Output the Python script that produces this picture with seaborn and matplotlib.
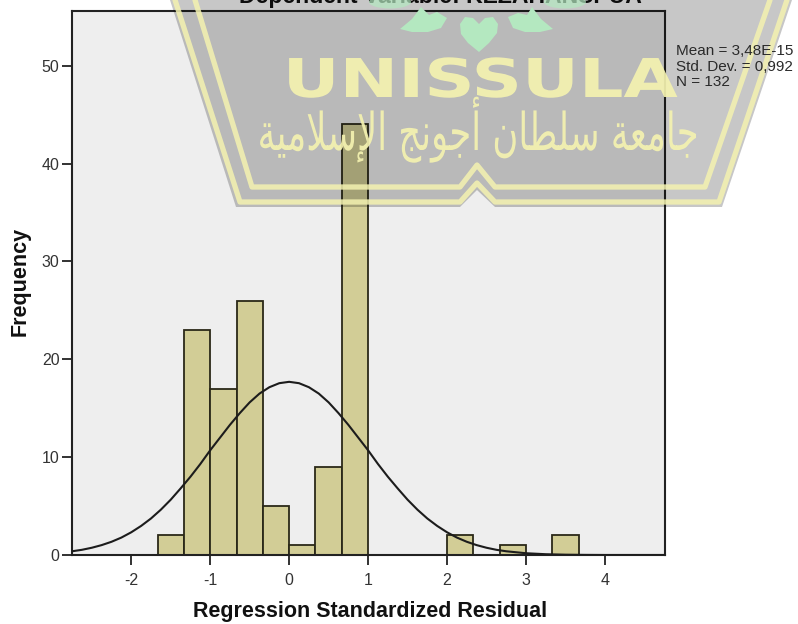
import numpy as np
import matplotlib
matplotlib.use("Agg")
import matplotlib.pyplot as plt
import seaborn as sns
from matplotlib.patches import Polygon, Ellipse
from matplotlib.patheffects import AbstractPathEffect
from matplotlib.transforms import Affine2D

# ---- data ----
bin_edges = [-5/3, -4/3, -1, -2/3, -1/3, 0, 1/3, 2/3, 1, 4/3, 5/3, 2, 7/3, 8/3, 3, 10/3, 11/3]
bin_centers = [-1.5, -7/6, -5/6, -0.5, -1/6, 1/6, 0.5, 5/6, 7/6, 1.5, 11/6, 13/6, 2.5, 17/6, 3.17, 3.5]
counts = [2, 23, 17, 26, 5, 1, 9, 44, 0, 0, 0, 2, 0, 1, 0, 2]
curve_x = [-2.75, -2.625, -2.5, -2.375, -2.25, -2.125, -2, -1.875, -1.75, -1.625, -1.5, -1.375, -1.25, -1.125,
           -1, -0.875, -0.75, -0.625, -0.5, -0.375, -0.25, -0.125, 0, 0.125, 0.25, 0.375, 0.5, 0.625, 0.75,
           0.875, 1, 1.125, 1.25, 1.375, 1.5, 1.625, 1.75, 1.875, 2, 2.125, 2.25, 2.375, 2.5, 2.625, 2.75,
           3, 3.25, 3.5, 3.75, 4, 4.75]
curve_y = [0.38, 0.53, 0.74, 1.01, 1.35, 1.78, 2.32, 2.97, 3.73, 4.63, 5.65, 6.8, 8.0, 9.3,
           10.7, 12.0, 13.3, 14.5, 15.6, 16.5, 17.15, 17.56, 17.7, 17.56, 17.15, 16.5, 15.6, 14.5, 13.3,
           12.0, 10.7, 9.3, 8.0, 6.8, 5.65, 4.63, 3.73, 2.97, 2.32, 1.78, 1.35, 1.01, 0.74, 0.53, 0.38,
           0.18, 0.08, 0.03, 0.01, 0, 0]
x_ticks = [-2, -1, 0, 1, 2, 3, 4]
y_ticks = [0, 10, 20, 30, 40, 50]
title_text = "Dependent Variable: KEZAHANSPUA"
stats_lines = ["Mean = 3,48E-15", "Std. Dev. = 0,992", "N = 132"]
x_label = "Regression Standardized Residual"
y_label = "Frequency"
mark_latin = "UNISSULA"
mark_arabic = "جامعة سلطان أجونج الإسلامية"

W, H = 798, 624
sns.set_theme(style="white")
plt.rcParams["font.family"] = ["Liberation Sans", "DejaVu Sans"]
plt.rcParams["axes.unicode_minus"] = False

fig = plt.figure(figsize=(W / 100, H / 100), dpi=100, facecolor="white")
ax = fig.add_axes([72 / W, 1 - 555 / H, (665 - 72) / W, (555 - 11) / H])
ax.set_facecolor("#EEEEEE")

sns.histplot(x=bin_centers, weights=counts, bins=bin_edges, ax=ax, color="#D2CD96", alpha=1,
             edgecolor="#2A2818", linewidth=1.3, zorder=2)
sns.lineplot(x=curve_x, y=curve_y, ax=ax, color="#1C1C1C", linewidth=1.5, zorder=3, errorbar=None, sort=False)

ax.set_xlim(-2.75, 4.76)
ax.set_ylim(0, 55.6)
ax.set_xticks(x_ticks)
ax.set_yticks(y_ticks)
ax.tick_params(axis="both", direction="out", length=7, width=1.3, color="#222222",
               labelsize=11.5, labelcolor="#333333", left=True, bottom=True, pad=2)
ax.tick_params(axis="x", pad=6)
for s in ax.spines.values():
    s.set_visible(True)
    s.set_color("#222222")
    s.set_linewidth(1.5)
ax.set_xlabel("")
ax.set_ylabel("")

px = Affine2D().scale(1, -1).translate(0, H)  # pixel coordinates, origin at top-left


class Stretch(AbstractPathEffect):
    """Widen a text around a pixel anchor."""
    def __init__(self, sx, sy, cx, cy):
        super().__init__()
        self.t = Affine2D().translate(-cx, -(H - cy)).scale(sx, sy).translate(cx, H - cy)

    def draw_path(self, renderer, gc, tpath, affine, rgbFace=None):
        renderer.draw_path(gc, tpath, affine + self.t, rgbFace)


def shape_arabic(text):
    forms = {"ا": "\uFE8D\uFE8E", "أ": "\uFE83\uFE84", "إ": "\uFE87\uFE88", "و": "\uFEED\uFEEE", "ة": "\uFE93\uFE94",
             "ج": "\uFE9D\uFE9E\uFE9F\uFEA0", "م": "\uFEE1\uFEE2\uFEE3\uFEE4", "ع": "\uFEC9\uFECA\uFECB\uFECC",
             "س": "\uFEB1\uFEB2\uFEB3\uFEB4", "ل": "\uFEDD\uFEDE\uFEDF\uFEE0", "ط": "\uFEC1\uFEC2\uFEC3\uFEC4",
             "ن": "\uFEE5\uFEE6\uFEE7\uFEE8", "ي": "\uFEF1\uFEF2\uFEF3\uFEF4"}
    lam_alef = {"ا": "\uFEFB\uFEFC", "إ": "\uFEF9\uFEFA", "أ": "\uFEF7\uFEF8"}
    out, i, joined = [], 0, False
    while i < len(text):
        c = text[i]
        if c == " ":
            out.append(c); joined = False; i += 1; continue
        nxt = text[i + 1] if i + 1 < len(text) else " "
        if c == "ل" and nxt in lam_alef:
            out.append(lam_alef[nxt][1 if joined else 0]); joined = False; i += 2; continue
        f = forms[c]
        if len(f) == 2:
            out.append(f[1 if joined else 0]); joined = False
        else:
            if nxt != " ":
                out.append(f[3] if joined else f[2]); joined = True
            else:
                out.append(f[1] if joined else f[0]); joined = False
        i += 1
    return "".join(out)[::-1]


def add_poly(points, **kw):
    fig.add_artist(Polygon(points, closed=True, transform=px, **kw))


# ---- axis-side text ----
fig.text(370 / W, 1 - 611 / H, x_label, ha="center", va="center", fontsize=15.5, fontweight="bold", color="#111111")
fig.text(20 / W, 1 - 281 / H, y_label, ha="center", va="center", rotation=90, fontsize=15.5, fontweight="bold", color="#111111")
fig.text(440 / W, 1 - 3 / H, title_text, ha="center", va="baseline", fontsize=16.6, fontweight="bold", color="#111111")
for ln, yy in zip(stats_lines, [51, 67, 82]):
    fig.text(676 / W, 1 - yy / H, ln, ha="left", va="center", fontsize=11, color="#2A2A2A", zorder=13)

# ---- watermark ----
add_poly([(170, 0), (792, 0), (722, 207), (495, 207), (477, 190), (460, 207), (236, 207)],
         facecolor="black", alpha=0.22, edgecolor="none", zorder=10)
yellow = "#F4F2B0"
for pts in ([(175, 0), (240, 202), (460, 202), (477, 183), (495, 202), (719, 202), (787, 0)],
            [(195, 0), (252, 187), (460, 187), (477, 165), (495, 187), (705, 187), (770, 0)]):
    xs, ys = zip(*pts)
    fig.add_artist(plt.Line2D(xs, ys, transform=px, color=yellow, lw=3.8, alpha=0.85, zorder=11))

green = "#B4E8C0"
heart = [(479, 24), (473, 18), (465, 17), (460, 24), (461, 34), (468, 43), (479, 52), (489, 43), (497, 33), (498, 24), (493, 17), (485, 18)]
for pts in (heart,
            [(400, 29), (412, 19), (421, 7), (429, 15), (437, 12), (447, 18), (441, 28), (428, 32), (412, 32)],
            [(508, 17), (518, 13), (527, 15), (532, 7), (541, 19), (553, 29), (540, 32), (525, 32), (513, 28)]):
    add_poly(pts, facecolor=green, edgecolor="none", zorder=12)
for cx in (390, 565):
    fig.add_artist(Ellipse((cx, 2), 42, 13, transform=px, facecolor=green, edgecolor="none", alpha=0.7, zorder=12))

fig.text(480 / W, 1 - 97 / H, mark_latin, ha="center", va="baseline", fontsize=38.5, fontweight="bold",
         family="DejaVu Sans", color=yellow, alpha=0.92, zorder=12,
         path_effects=[Stretch(1.31, 1, 480, 97)])
fig.text(478 / W, 1 - 150 / H, shape_arabic(mark_arabic), ha="center", va="baseline", fontsize=30,
         family="DejaVu Sans", color=yellow, alpha=0.92, zorder=12,
         path_effects=[Stretch(0.85, 1.25, 478, 150)])

fig.savefig("out.png", dpi=100, facecolor="white")
